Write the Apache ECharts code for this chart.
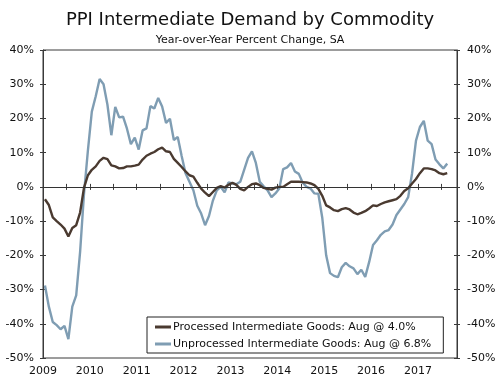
<!DOCTYPE html>
<html>
<head>
<meta charset="utf-8">
<script src="https://cdn.jsdelivr.net/npm/echarts@6/dist/echarts.min.js"></script>
<style>html,body{margin:0;padding:0;background:#fff;}#c{width:500px;height:378px;}</style>
</head>
<body>
<div id="c"></div>
<script>
// Monthly data, Jan 2009 .. Aug 2017 (year-over-year % change)
const startYear = 2009;
const processed = [
  -3.6, -5.3, -8.9, -10, -11, -12.2, -14.5, -12, -11.2, -7.5, -0.2, 3.4,
  5, 6, 7.6, 8.5, 8.1, 6.3, 6, 5.4, 5.5, 6, 6, 6.2,
  6.5, 8, 9.1, 9.7, 10.2, 11, 11.5, 10.4, 10.2, 8.2, 7, 5.8,
  4.5, 3.4, 3, 1.2, -0.5, -1.7, -2.7, -1.5, -0.3, 0.2, -0.2, 0.6,
  1.2, 0.6, -0.6, -1, 0, 0.8, 1, 0.5, -0.3, -0.6, -0.8, -0.2,
  0, 0, 0.8, 1.5, 1.5, 1.5, 1.4, 1.3, 1, 0.5, -0.6, -2.6,
  -5.4, -6, -6.8, -7.1, -6.5, -6.2, -6.6, -7.5, -8, -7.6, -7.1, -6.3,
  -5.4, -5.6, -5, -4.5, -4.2, -3.9, -3.6, -2.6, -1.2, -0.4, 1, 2.3,
  4, 5.4, 5.4, 5.2, 4.8, 4, 3.7, 4.0
];
const unprocessed = [
  -28.8, -35, -39.5, -40.4, -41.6, -40.6, -44.5, -35, -31.7, -19, -2, 10.7,
  22, 26.5, 31.5, 30, 24, 15.1, 23.4, 20.3, 20.5, 17, 12.5, 14.4,
  10.9, 16.5, 17.1, 23.6, 22.9, 26, 23.5, 18.7, 19.9, 13.7, 14.6, 9,
  4, 1.5, -1, -5.5, -7.8, -11.2, -8.5, -4, -1, 0, -1.6, 1.3,
  1, 0.8, 1.5, 5, 8.5, 10.4, 7, 1.5, 0.2, -1, -3, -1.9,
  -0.5, 5.2, 5.7, 7, 4.5, 3.8, 1.2, 0, -0.5, -1.9, -2, -9,
  -20, -25.2, -26, -26.4, -23.5, -22.2, -23.2, -23.8, -25.5, -24.2, -26.3, -22,
  -17, -15.6, -14, -13, -12.6, -11, -8.2, -6.6, -5, -3, 4, 13.5,
  17.5, 19.3, 13.5, 12.5, 8, 6.6, 5.4, 6.8
];
const seriesNames = [
  'Processed Intermediate Goods: Aug @ 4.0%',
  'Unprocessed Intermediate Goods: Aug @ 6.8%'
];
const yTicks = { min: -50, max: 40, interval: 10 };
const xRange = { min: 2009, max: 2009 + 106 / 12, interval: 0.5 };

function toPairs(arr) {
  return arr.map((v, i) => [startYear + (i + 0.5) / 12, v]);
}

const chart = echarts.init(document.getElementById('c'), null, { renderer: 'canvas' });
const font = 'DejaVu Sans, Verdana, sans-serif';
const axisColor = '#3a3a3a';

const xBase = {
  type: 'value', min: xRange.min, max: xRange.max, interval: xRange.interval,
  splitLine: { show: false }, position: 'bottom'
};
const yBase = {
  type: 'value', min: yTicks.min, max: yTicks.max, interval: yTicks.interval,
  splitLine: { show: false }
};

chart.setOption({
  animation: false,
  backgroundColor: '#fff',
  title: [
    { text: 'PPI Intermediate Demand by Commodity', left: 'center', top: 6,
      textStyle: { fontFamily: font, fontSize: 18, fontWeight: 'normal', color: '#111' } },
    { text: 'Year-over-Year Percent Change, SA', left: 'center', top: 30,
      textStyle: { fontFamily: font, fontSize: 11, fontWeight: 'normal', color: '#111' } }
  ],
  grid: { left: 43, right: 43, top: 50, bottom: 20, show: true, borderColor: axisColor, borderWidth: 1, backgroundColor: 'transparent' },
  legend: {
    orient: 'vertical', left: 147, top: 317,
    data: seriesNames,
    icon: 'rect', itemWidth: 16, itemHeight: 3, itemGap: 3,
    padding: [3, 12, 2, 8],
    borderColor: '#222', borderWidth: 1, backgroundColor: '#fff',
    textStyle: { fontFamily: font, fontSize: 11, color: '#111', lineHeight: 14, padding: [0, 0, 0, -3] }
  },
  xAxis: [
    Object.assign({}, xBase, {
      axisLine: { show: true, lineStyle: { color: axisColor } },
      axisTick: { show: true, inside: false, length: 3, lineStyle: { color: axisColor } },
      axisLabel: { show: true, margin: 8, fontFamily: font, fontSize: 11, color: '#111',
        formatter: v => (Math.abs(v - Math.round(v)) < 1e-6 ? String(Math.round(v)) : '') }
    }),
    Object.assign({}, xBase, {
      axisLine: { show: false },
      axisTick: { show: true, inside: true, length: 3, lineStyle: { color: axisColor } },
      axisLabel: { show: false }
    })
  ],
  yAxis: [
    Object.assign({}, yBase, {
      position: 'left',
      axisLine: { show: true, lineStyle: { color: axisColor } },
      axisTick: { show: true, inside: false, length: 3, lineStyle: { color: axisColor } },
      axisLabel: { margin: 9, fontFamily: font, fontSize: 11, color: '#111', formatter: '{value}%' }
    }),
    Object.assign({}, yBase, {
      position: 'right',
      axisLine: { show: true, lineStyle: { color: axisColor } },
      axisTick: { show: true, inside: false, length: 3, lineStyle: { color: axisColor } },
      axisLabel: { margin: 10, fontFamily: font, fontSize: 11, color: '#111', formatter: '{value}%' }
    }),
    Object.assign({}, yBase, {
      position: 'left',
      axisLine: { show: false },
      axisTick: { show: true, inside: true, length: 3, lineStyle: { color: axisColor } },
      axisLabel: { show: false }
    }),
    Object.assign({}, yBase, {
      position: 'right',
      axisLine: { show: false },
      axisTick: { show: true, inside: true, length: 3, lineStyle: { color: axisColor } },
      axisLabel: { show: false }
    })
  ],
  series: [
    {
      name: seriesNames[1], type: 'line', data: toPairs(unprocessed),
      showSymbol: false, symbol: 'none', z: 2,
      itemStyle: { color: '#7f9db3' },
      lineStyle: { color: '#7f9db3', width: 2.4 }
    },
    {
      name: seriesNames[0], type: 'line', data: toPairs(processed),
      showSymbol: false, symbol: 'none', z: 3,
      itemStyle: { color: '#4a3a30' },
      lineStyle: { color: '#4a3a30', width: 2.4 },
      markLine: {
        silent: true, symbol: 'none', label: { show: false },
        lineStyle: { color: '#333', width: 1, type: 'solid' },
        data: [{ yAxis: 0 }]
      }
    }
  ]
});
</script>
</body>
</html>
